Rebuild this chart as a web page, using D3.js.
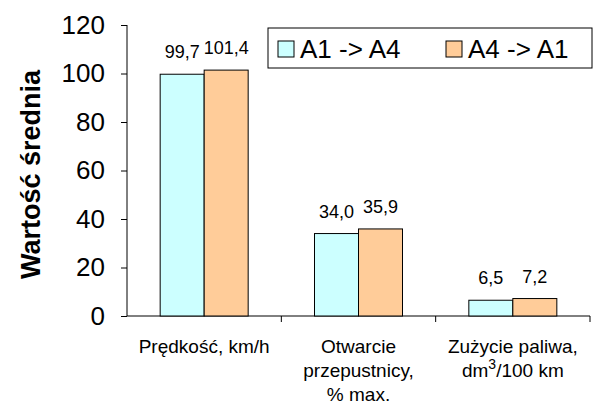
<!DOCTYPE html>
<html><head><meta charset="utf-8">
<script src="https://cdn.jsdelivr.net/npm/d3@7"></script>
<style>body{margin:0;background:#fff}text{font-family:Arial,"Liberation Sans",sans-serif}</style>
</head><body>
<svg id="chart" width="601" height="411"></svg>
<script>
// Chart data
const categories = ["c1", "c2", "c3"];
const catLabels = [["Prędkość, km/h"], ["Otwarcie", "przepustnicy,", "% max."], ["Zużycie paliwa,", "dm|3|/100 km"]];
const seriesNames = ["A1 -> A4", "A4 -> A1"];
const seriesA = [99.7, 34.0, 6.5];
const seriesB = [101.4, 35.9, 7.2];
const colors = ["#ccffff", "#ffcc99"];
const yTicks = [0, 20, 40, 60, 80, 100, 120];

const svg = d3.select("#chart");
const padding = {top: 25, right: 11, bottom: 95, left: 127};
const width = 601, height = 411;

var xScale = d3.scaleBand()
    .domain(categories)
    .range([padding.left, width - padding.right]);
var yScale = d3.scaleLinear().domain([0, 120]).range([height - padding.bottom, padding.top]);

// Y axis
var yAxis = svg.append("g")
    .attr("transform", "translate(" + padding.left + ",0)")
    .call(d3.axisLeft(yScale).tickValues(yTicks).tickSize(6).tickPadding(16));
yAxis.selectAll("text").style("font-size", "26px").attr("fill", "#000");
yAxis.selectAll("line,path").attr("stroke", "#000");
yAxis.select("path").attr("d", "M0," + yScale(120) + "V" + yScale(0));

// X axis
var x0 = height - padding.bottom;
svg.append("line").attr("x1", padding.left).attr("x2", width - padding.right)
    .attr("y1", x0).attr("y2", x0).attr("stroke", "#000");
categories.forEach(c => {
    svg.append("line").attr("x1", xScale(c) + xScale.bandwidth()).attr("x2", xScale(c) + xScale.bandwidth())
        .attr("y1", x0).attr("y2", x0 + 6).attr("stroke", "#000");
});
categories.forEach((c, i) => {
    var cx = xScale(c) + xScale.bandwidth() / 2;
    var t = svg.append("text").attr("text-anchor", "middle").style("font-size", "19px")
        .attr("x", cx).attr("y", x0 + 37);
    catLabels[i].forEach((l, j) => {
        var parts = l.split("|");
        var sp = t.append("tspan").attr("x", cx).attr("dy", j ? 24 : 0).text(parts[0]);
        if (parts.length > 1) {
            t.append("tspan").attr("dy", -8).style("font-size", "14px").text(parts[1]);
            t.append("tspan").attr("dy", 8).text(parts[2]);
        }
    });
});

// Bars
[seriesA, seriesB].forEach((vals, s) => {
    svg.selectAll(".bar" + s).data(vals).enter().append("rect")
        .attr("x", (d, i) => xScale(categories[i]) + xScale.bandwidth() / 2 + (s ? 0 : -44))
        .attr("y", d => yScale(d))
        .attr("width", 44)
        .attr("height", d => yScale(0) - yScale(d))
        .attr("fill", colors[s]).attr("stroke", "#000");
    svg.selectAll(".lab" + s).data(vals).enter().append("text")
        .attr("text-anchor", "middle").style("font-size", "18px")
        .attr("x", (d, i) => xScale(categories[i]) + xScale.bandwidth() / 2 + (s ? 22 : -22))
        .attr("y", d => yScale(d) - 16)
        .text(d => d.toFixed(1).replace(".", ","));
});

// Y title
svg.append("text").attr("transform", "rotate(-90)")
    .attr("x", -(padding.top + (height - padding.bottom)) / 2 - 4).attr("y", 40)
    .attr("text-anchor", "middle").style("font-size", "27px").style("font-weight", "bold")
    .text("Wartość średnia");

// Legend
var lg = svg.append("g").attr("transform", "translate(268,28)");
lg.append("rect").attr("width", 324).attr("height", 40).attr("fill", "#fff").attr("stroke", "#000");
seriesNames.forEach((n, i) => {
    lg.append("rect").attr("x", 10 + i * 168).attr("y", 13).attr("width", 16).attr("height", 16)
        .attr("fill", colors[i]).attr("stroke", "#000");
    lg.append("text").attr("x", 32 + i * 168).attr("y", 30).style("font-size", "26px").text(n);
});
</script>
</body></html>
